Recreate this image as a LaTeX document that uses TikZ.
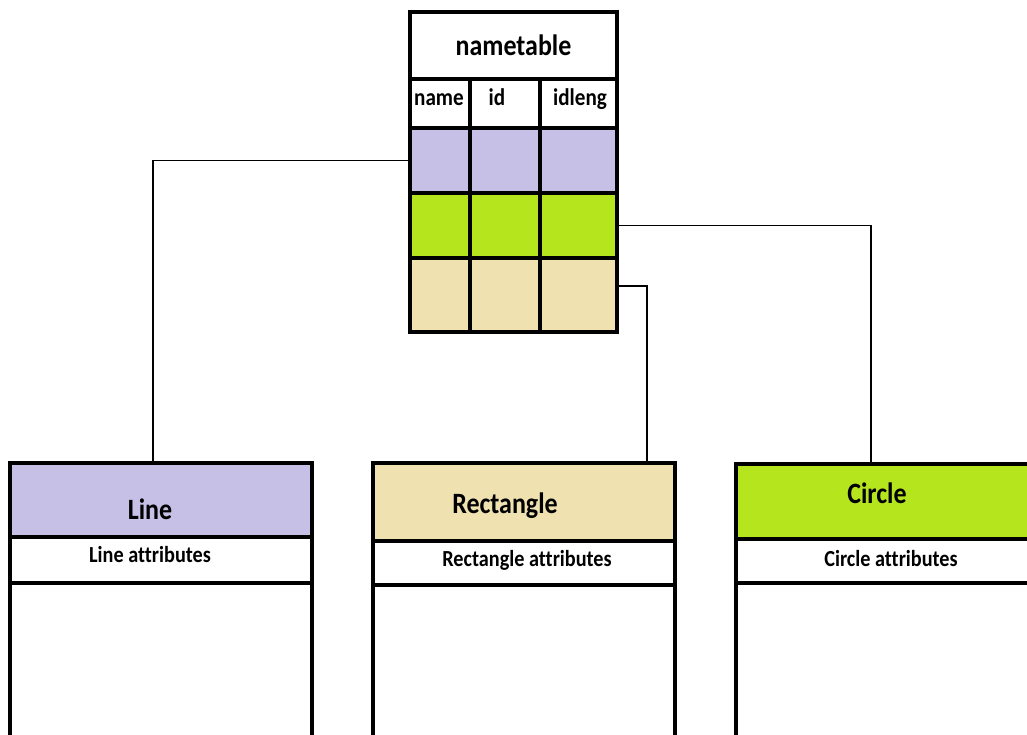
\documentclass[tikz,border=0pt]{standalone}
\usepackage{fontspec}
\setmainfont[FakeStretch=0.88,Ligatures=NoCommon]{Carlito}
\definecolor{lilac}{RGB}{198,191,230}
\definecolor{lime}{RGB}{181,230,29}
\definecolor{sand}{RGB}{239,226,176}
\newcommand\mycell[6]{\node[cell,fill=#6,minimum width={#4-#2},minimum height={#5-#3}] (#1) at ({(#2+#4)/2},{(#3+#5)/2}) {};}
\begin{document}
\begin{tikzpicture}[x=1pt,y=-1pt,
  cell/.style={draw=black,line width=4.2pt,inner sep=0pt,outer sep=0pt},
  conn/.style={draw=black,line width=1.4pt},
  big/.style={font=\bfseries\fontsize{29.5}{32}\selectfont,inner sep=0pt,anchor=base},
  small/.style={font=\bfseries\fontsize{23}{26}\selectfont,inner sep=0pt,anchor=base},
  colh/.style={font=\bfseries\fontsize{24}{26}\selectfont,inner sep=0pt,anchor=base}]
\useasboundingbox (0,0) rectangle (1027,734);
\clip (0,0) rectangle (1027,734);
% connector end points on the box edges
\coordinate (lineport) at (153,463);
\coordinate (circport) at (871,464);
\coordinate (tanport) at (617,286);
\coordinate (rectport) at (647,463);
% nametable
\mycell{title}{410}{12}{617}{79}{white}
\mycell{ha}{410}{79}{470}{128}{white}
\mycell{hb}{470}{79}{540}{128}{white}
\mycell{hc}{540}{79}{617}{128}{white}
\mycell{ra}{410}{128}{470}{193}{lilac}
\mycell{rb}{470}{128}{540}{193}{lilac}
\mycell{rc}{540}{128}{617}{193}{lilac}
\mycell{ga}{410}{193}{470}{258}{lime}
\mycell{gb}{470}{193}{540}{258}{lime}
\mycell{gc}{540}{193}{617}{258}{lime}
\mycell{ta}{410}{258}{470}{332}{sand}
\mycell{tb}{470}{258}{540}{332}{sand}
\mycell{tc}{540}{258}{617}{332}{sand}
\node[big] (ttext) at (513.5,55) {nametable};
\node[colh] (hat) at (439,105) {name};
\node[colh] (hbt) at (497,105) {id};
\node[colh] (hct) at (580,105) {idleng};
% Line box
\mycell{lhead}{10}{463}{312}{537}{lilac}
\mycell{lattr}{10}{537}{312}{583}{white}
\mycell{lbody}{10}{583}{312}{760}{white}
\node[big] (lt) at (150,519) {Line};
\node[small] (lat) at (150,562) {Line attributes};
% Rectangle box
\mycell{rhead}{373}{463}{675}{541}{sand}
\mycell{rattr}{373}{541}{675}{585}{white}
\mycell{rbody}{373}{585}{675}{760}{white}
\node[big] (rt) at (505,513) {Rectangle};
\node[small] (rat) at (527,566) {Rectangle attributes};
% Circle box
\mycell{chead}{736}{464}{1040}{539}{lime}
\mycell{cattr}{736}{539}{1040}{583}{white}
\mycell{cbody}{736}{583}{1040}{760}{white}
\node[big] (ct) at (877,503) {Circle};
\node[small] (cat) at (891,566) {Circle attributes};
% connectors
\draw[conn] (ra.west) -| (lineport);
\draw[conn] (gc.east) -| (circport);
\draw[conn] (tanport) -| (rectport);
\end{tikzpicture}
\end{document}
